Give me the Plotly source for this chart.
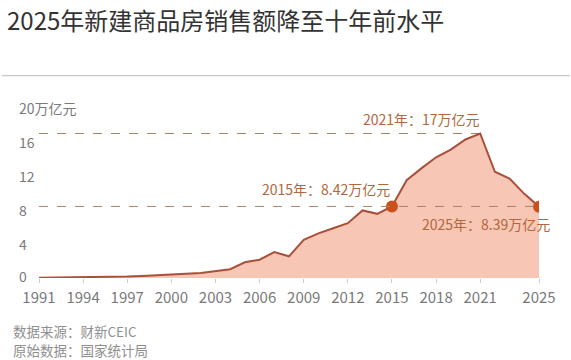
import plotly.graph_objects as go

years = list(range(1991, 2026))
# 新建商品房销售额（万亿元）
values = [0.02, 0.04, 0.09, 0.10, 0.13, 0.14, 0.18, 0.25, 0.30, 0.39,
          0.49, 0.60, 0.80, 1.04, 1.85, 2.15, 3.05, 2.55, 4.50, 5.25,
          5.85, 6.45, 7.95, 7.55, 8.42, 11.50, 12.90, 14.20, 15.10, 16.30,
          17.00, 12.50, 11.70, 9.90, 8.39]
xtick_vals = [1991, 1994, 1997, 2000, 2003, 2006, 2009, 2012, 2015, 2018, 2021, 2025]
ytick_vals = [0, 4, 8, 12, 16, 20]
ytick_text = ["0", "4", "8", "12", "16", "20万亿元"]
highlight_years = [2015, 2025]
highlight_vals = [8.42, 8.39]
peak_year, peak_val = 2021, 17.0
title = "2025年新建商品房销售额降至十年前水平"
notes = ["数据来源：财新CEIC", "原始数据：国家统计局"]

FONT = "Noto Sans CJK SC"
W, H = 571, 360
ml, mr, mt, mb = 39.3, 31.7, 107.5, 81.7
pw = W - ml - mr

fig = go.Figure()
fig.add_trace(go.Scatter(
    x=years, y=values, mode="lines",
    line=dict(color="#a9503a", width=2),
    fill="tozeroy", fillcolor="rgba(245,184,163,0.8)",
    hoverinfo="skip", showlegend=False))
fig.add_trace(go.Scatter(
    x=highlight_years, y=highlight_vals, mode="markers",
    marker=dict(color="#c9521c", size=12),
    hoverinfo="skip", showlegend=False))

shapes = [
    dict(type="line", xref="x", yref="y", x0=1991, x1=peak_year, y0=peak_val, y1=peak_val,
         line=dict(color="#a98266", width=1, dash="dash"), layer="below"),
    dict(type="line", xref="x", yref="y", x0=1991, x1=2025, y0=highlight_vals[0], y1=highlight_vals[0],
         line=dict(color="#a98266", width=1, dash="dash"), layer="above"),
    dict(type="line", xref="paper", yref="paper", x0=(2 - ml) / pw, x1=(570 - ml) / pw,
         y0=(H - mb - 75) / (H - mt - mb), y1=(H - mb - 75) / (H - mt - mb),
         line=dict(color="#c8c8c8", width=1.2)),
]

ann_color = "#b0683c"
annotations = [
    dict(x=peak_year, y=peak_val, xref="x", yref="y", text=f"{peak_year}年：17万亿元",
         showarrow=False, xanchor="right", yanchor="bottom", xshift=2, yshift=3,
         font=dict(family=FONT, size=14, color=ann_color)),
    dict(x=highlight_years[0], y=highlight_vals[0], xref="x", yref="y",
         text=f"{highlight_years[0]}年：{highlight_vals[0]}万亿元",
         showarrow=False, xanchor="right", yanchor="bottom", xshift=0, yshift=5,
         font=dict(family=FONT, size=14, color=ann_color)),
    dict(x=highlight_years[1], y=highlight_vals[1], xref="x", yref="y",
         text=f"{highlight_years[1]}年：{highlight_vals[1]}万亿元",
         showarrow=False, xanchor="right", yanchor="top", xshift=13, yshift=-5,
         font=dict(family=FONT, size=14, color=ann_color)),
    dict(x=(5 - ml) / pw, y=(H - mb - 19) / (H - mt - mb), xref="paper", yref="paper",
         text=title, showarrow=False, xanchor="left", yanchor="middle",
         font=dict(family=FONT, size=24, color="#333333")),
]
for i, t in enumerate(notes):
    annotations.append(dict(x=(11 - ml) / pw, y=(H - mb - (332 + 18.5 * i)) / (H - mt - mb),
                            xref="paper", yref="paper", text=t, showarrow=False,
                            xanchor="left", yanchor="middle",
                            font=dict(family=FONT, size=13.5, color="#8f8f8f")))
for v, t in zip(ytick_vals, ytick_text):
    annotations.append(dict(x=(17 - ml) / pw, y=v, xref="paper", yref="y", text=t,
                            showarrow=False, xanchor="left", yanchor="middle",
                            yshift=2 if v == 0 else 0,
                            font=dict(family=FONT, size=14, color="#7a7a7a")))

fig.update_layout(
    width=W, height=H, margin=dict(l=ml, r=mr, t=mt, b=mb),
    paper_bgcolor="white", plot_bgcolor="white",
    shapes=shapes, annotations=annotations,
    xaxis=dict(range=[1991, 2025], tickvals=xtick_vals, ticktext=[str(v) for v in xtick_vals],
               showgrid=False, zeroline=False, showline=False,
               ticks="outside", ticklen=4, tickcolor="#cccccc", ticklabelstandoff=2,
               tickfont=dict(family=FONT, size=15, color="#7a7a7a")),
    yaxis=dict(range=[0, 20], showgrid=False, zeroline=False, showticklabels=False,
               showline=False),
)
fig.write_html("out.html")
